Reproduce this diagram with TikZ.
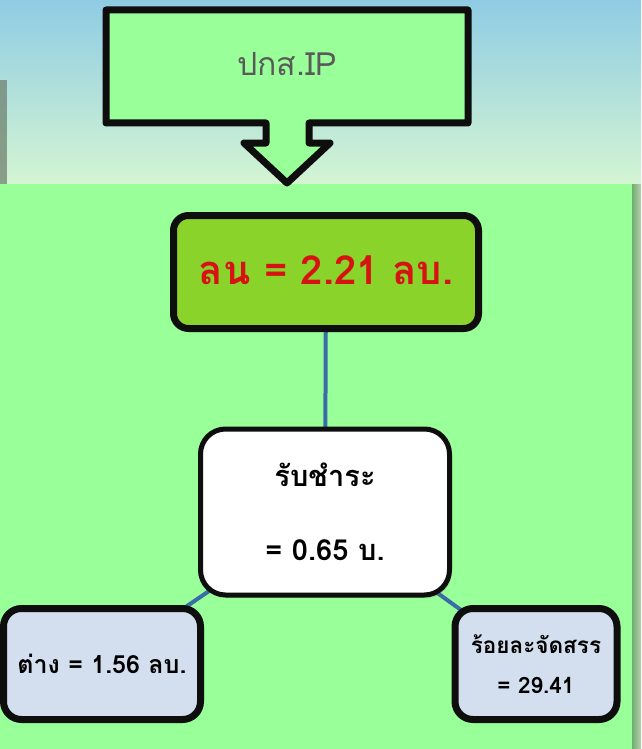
\documentclass[tikz,border=0pt]{standalone}
\usepackage{fontspec}
\newfontfamily\thaifont[Script=Thai]{Loma}
\usetikzlibrary{shadows}
\definecolor{skytop}{RGB}{143,204,228}
\definecolor{skylow}{RGB}{214,246,210}
\definecolor{panelgreen}{RGB}{153,255,153}
\definecolor{limegreen}{RGB}{137,211,42}
\definecolor{valred}{RGB}{214,18,18}
\definecolor{wireblue}{RGB}{58,108,168}
\definecolor{paleblue}{RGB}{211,223,238}
\definecolor{inkblack}{RGB}{14,14,14}
\pgfdeclarelayer{back}
\pgfdeclarelayer{wires}
\pgfsetlayers{back,wires,main}
\tikzset{
	box/.style={draw=inkblack, align=center, inner sep=0pt,
		drop shadow={opacity=0.25, shadow xshift=2pt, shadow yshift=-3pt}},
	wire/.style={draw=wireblue, line width=4pt},
}
\begin{document}
\begin{tikzpicture}[x=1pt, y=-1pt]
	\useasboundingbox (0,0) rectangle (641,749);
	\begin{pgfonlayer}{back}
		\shade[top color=skytop, bottom color=skylow] (0,0) rectangle (641,190);
		\fill[black!50!skylow, opacity=0.7] (0,80) rectangle (7,190);
		\shade[left color=black!35!panelgreen, right color=black!15!skylow] (630,184) rectangle (641,749);
		\fill[panelgreen] (-5,184) rectangle (632,760);
	\end{pgfonlayer}
	% call-out on top
	\draw[draw=inkblack, fill=panelgreen, line width=7pt, line join=round,
		drop shadow={opacity=0.25, shadow xshift=2pt, shadow yshift=-3pt}]
		(106,10) -- (468,10) -- (468,123) -- (309,123) -- (309,143) -- (330,143)
		-- (287,183) -- (244,143) -- (266,143) -- (266,123) -- (106,123) -- cycle;
	\node[font=\thaifont\fontsize{32}{32}\selectfont, text=black!65] (src) at (287,64) {ปกส.IP};
	
	\node[box, fill=limegreen, line width=7pt, rounded corners=15pt,
		minimum width=305pt, minimum height=113pt, text=valred,
		font=\thaifont\bfseries\fontsize{40}{40}\selectfont] (ln) at (326,272) {\raisebox{3pt}{ลน = 2.21 ลบ.}};
	\node[box, fill=white, line width=5pt, rounded corners=25pt,
		minimum width=249pt, minimum height=166pt,
		font=\thaifont\bfseries\fontsize{29}{74}\selectfont] (rub) at (325,512) {รับชำระ\\= 0.65 บ.};
	\node[box, fill=paleblue, line width=7pt, rounded corners=18pt,
		minimum width=197pt, minimum height=111pt,
		font=\thaifont\bfseries\fontsize{25}{40}\selectfont] (tang) at (102,664) {ต่าง = 1.56 ลบ.};
	\node[box, fill=paleblue, line width=7pt, rounded corners=18pt,
		minimum width=162pt, minimum height=111pt,
		font=\thaifont\bfseries\fontsize{22.5}{40}\selectfont] (roi) at (536,664) {ร้อยละจัดสรร\\= 29.41};
	
	\begin{pgfonlayer}{wires}
		\draw[wire] (ln.center) -- (rub.center);
		\draw[wire] (rub.center) -- (tang.center);
		\draw[wire] (rub.center) -- (roi.center);
	\end{pgfonlayer}
\end{tikzpicture}
\end{document}
